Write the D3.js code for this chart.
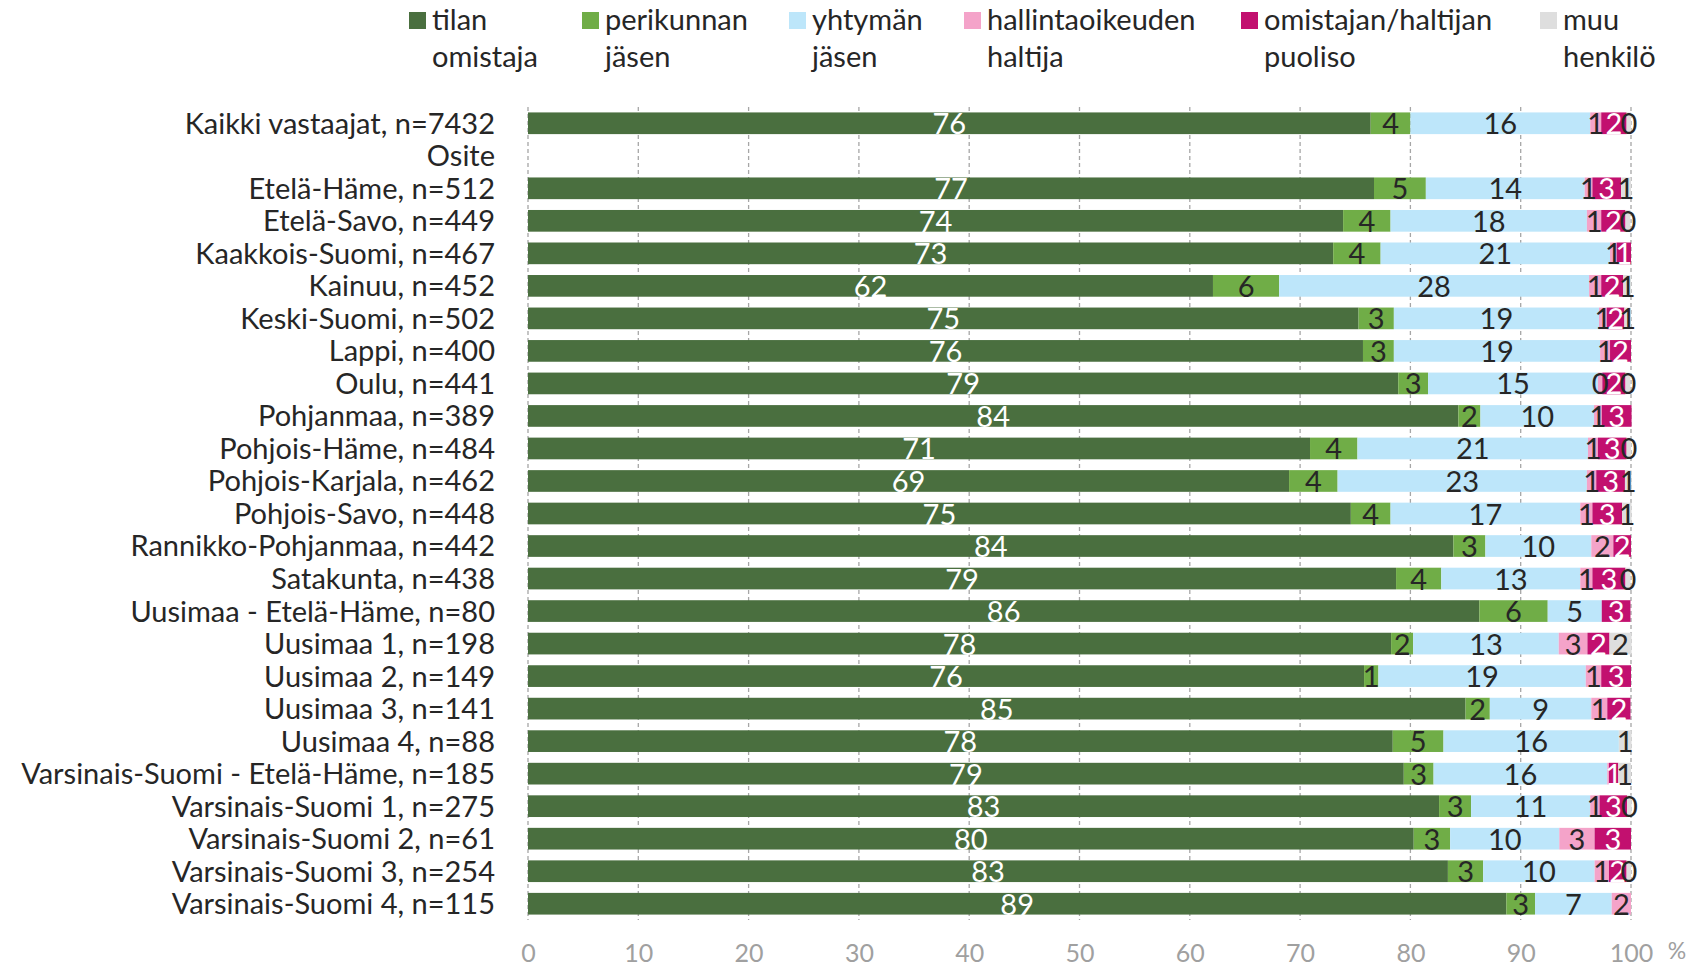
<!DOCTYPE html>
<html>
<head>
<meta charset="utf-8">
<script src="https://cdn.jsdelivr.net/npm/d3@7"></script>
<style>
  html, body { margin: 0; padding: 0; background: #fff; }
  svg { display: block; font-family: Lato, "Open Sans", sans-serif; }
</style>
</head>
<body>
<svg id="chart" width="1696" height="966"></svg>
<script>
// ---- data ----
const categories = ["Kaikki vastaajat, n=7432","Osite","Etelä-Häme, n=512","Etelä-Savo, n=449","Kaakkois-Suomi, n=467","Kainuu, n=452","Keski-Suomi, n=502","Lappi, n=400","Oulu, n=441","Pohjanmaa, n=389","Pohjois-Häme, n=484","Pohjois-Karjala, n=462","Pohjois-Savo, n=448","Rannikko-Pohjanmaa, n=442","Satakunta, n=438","Uusimaa - Etelä-Häme, n=80","Uusimaa 1, n=198","Uusimaa 2, n=149","Uusimaa 3, n=141","Uusimaa 4, n=88","Varsinais-Suomi - Etelä-Häme, n=185","Varsinais-Suomi 1, n=275","Varsinais-Suomi 2, n=61","Varsinais-Suomi 3, n=254","Varsinais-Suomi 4, n=115"];

const seriesNames = [["tilan","omistaja"],["perikunnan","jäsen"],["yhtymän","jäsen"],["hallintaoikeuden","haltija"],["omistajan/haltijan","puoliso"],["muu","henkilö"]];

const tilanOmistaja     = [76.4,null,76.7,73.9,73.0,62.1,75.3,75.7,78.9,84.35,70.9,69.0,74.6,83.9,78.7,86.25,78.25,75.8,85.0,78.4,79.4,82.6,80.3,83.4,88.7];
const perikunnanJasen   = [3.6,null,4.7,4.3,4.3,6.0,3.2,2.8,2.7,2.0,4.3,4.4,3.6,2.9,4.1,6.2,2.0,1.3,2.2,4.6,2.7,2.9,3.3,3.2,2.6];
const yhtymanJasen      = [16.3,null,14.4,17.8,20.8,28.1,18.6,18.7,15.4,10.3,20.9,22.6,17.2,9.6,12.6,4.9,13.2,18.8,9.2,15.9,15.75,10.8,9.9,10.1,6.95];
const hallintaoikeuden  = [1.0,null,0.7,1.3,0.6,1.1,0.7,0.9,0.4,0.7,0.9,0.85,1.1,2.0,1.1,null,2.6,1.4,1.45,null,0.15,0.85,3.2,1.3,1.75];
const omistajanPuoliso  = [2.3,null,2.6,2.2,1.3,2.0,1.6,1.9,2.1,2.7,2.6,2.6,2.7,1.6,3.0,2.6,2.0,2.7,2.1,null,0.85,2.5,3.3,1.6,null];
const muuHenkilo        = [0.4,null,0.9,0.45,null,0.7,0.6,null,0.45,null,0.4,0.6,0.85,null,0.45,null,2.0,null,null,1.15,1.15,0.4,null,0.4,null];

const xTicks = [0,10,20,30,40,50,60,70,80,90,100];

const seriesValues = [tilanOmistaja, perikunnanJasen, yhtymanJasen, hallintaoikeuden, omistajanPuoliso, muuHenkilo];
const colors = ["#4a6f3f","#70ad47","#bde6fa","#f4a3c9","#c2106f","#dedede"];
const labelColors = ["#ffffff","#262626","#262626","#262626","#ffffff","#262626"];

// ---- layout ----
const svg = d3.select("#chart");
const x = d3.scaleLinear().domain([0,100]).range([528,1631]);
const y = d3.scaleBand().domain(categories).range([107,920]).paddingInner(0.333).paddingOuter(0.1667);

// gridlines
svg.append("g").selectAll("line").data(xTicks).join("line")
  .attr("x1", d => x(d)).attr("x2", d => x(d))
  .attr("y1", 107).attr("y2", 920)
  .attr("stroke", "#a6a6a6").attr("stroke-width", 1.3)
  .attr("stroke-dasharray", "4,3");

// stacked data
const rows = categories.map((c,i) => {
  let acc = 0;
  return seriesValues.map((s,k) => {
    const v = s[i];
    const x0 = acc; acc += (v || 0);
    return {cat: c, k, v, x0, x1: acc};
  });
});
const segs = rows.flat().filter(d => d.v != null);

svg.append("g").selectAll("rect").data(segs).join("rect")
  .attr("x", d => x(d.x0))
  .attr("width", d => x(d.x1) - x(d.x0))
  .attr("y", d => y(d.cat))
  .attr("height", y.bandwidth())
  .attr("fill", d => colors[d.k]);

const fmt = d3.format(".0f");
svg.append("g").selectAll("text").data(segs.filter(d => d.v >= 0.3)).join("text")
  .attr("x", d => (x(d.x0) + x(d.x1)) / 2)
  .attr("y", d => y(d.cat) + y.bandwidth()/2)
  .attr("dy", "0.38em")
  .attr("text-anchor", "middle")
  .attr("font-size", 29)
  .attr("fill", d => labelColors[d.k])
  .text(d => fmt(d.v));

// category labels
const yAxis = d3.axisLeft(y).tickSize(0).tickPadding(0);
const gy = svg.append("g").attr("transform", "translate(495,0)").call(yAxis);
gy.select(".domain").remove();
gy.selectAll("text").attr("font-size", 29).attr("fill", "#262626")
  .attr("font-family", "Lato, sans-serif").attr("dy", "0.36em");

// x axis
const xAxis = d3.axisBottom(x).tickValues(xTicks).tickSize(0).tickPadding(0);
const gx = svg.append("g").attr("transform", "translate(0,948)").call(xAxis);
gx.select(".domain").remove();
gx.selectAll("text").attr("font-size", 25).attr("fill", "#a0a0a0")
  .attr("font-family", "Lato, sans-serif").attr("dy", "0.55em");
svg.append("text").attr("x", 1677).attr("y", 959).attr("text-anchor", "middle")
  .attr("font-size", 23).attr("fill", "#a0a0a0").text("%");

// legend
const legendX = [409, 582, 789, 964, 1241, 1540];
const lg = svg.append("g").selectAll("g").data(seriesNames).join("g")
  .attr("transform", (d,i) => `translate(${legendX[i]},0)`);
lg.append("rect").attr("x", 0).attr("y", 12).attr("width", 17).attr("height", 17)
  .attr("fill", (d,i) => colors[i]);
lg.append("text").attr("x", 23).attr("y", 30).attr("font-size", 29).attr("fill", "#262626").text(d => d[0]);
lg.append("text").attr("x", 23).attr("y", 67).attr("font-size", 29).attr("fill", "#262626").text(d => d[1]);
</script>
</body>
</html>
